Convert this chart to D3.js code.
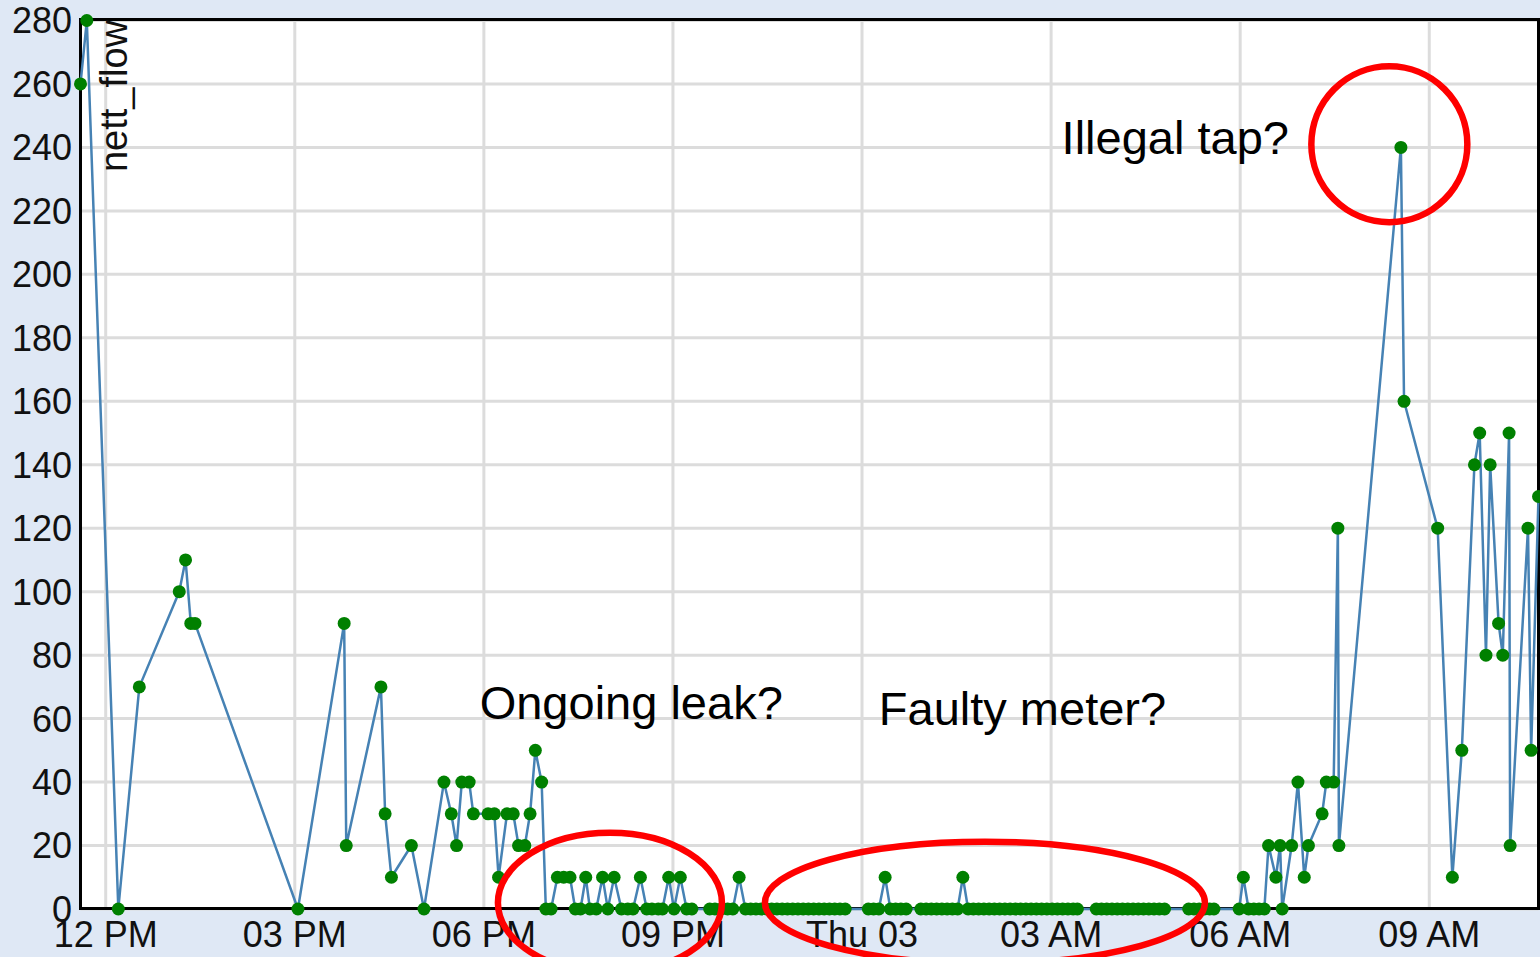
<!DOCTYPE html>
<html>
<head>
<meta charset="utf-8">
<script src="https://cdn.jsdelivr.net/npm/d3@7"></script>
<style>
  body { margin: 0; background: #dfe8f5; }
  svg text { font-family: "Liberation Sans", Arial, sans-serif; fill: #111; }
</style>
</head>
<body>
<svg id="chart" width="1540" height="957"></svg>
<script>
'use strict';
// readings start Wed 2016-03-02, times roll over to the next day after midnight
var startDay = '2016-03-02';
var times = [
  '11:36','11:42','12:12','12:32','13:10','13:16','13:21','13:25','15:03','15:47',
  '15:49','16:22','16:26','16:32','16:51','17:03','17:22','17:29','17:34','17:39',
  '17:46','17:50','18:04','18:10','18:14','18:22','18:28','18:33','18:39','18:44',
  '18:49','18:55','18:59','19:04','19:10','19:16','19:22','19:27','19:32','19:37',
  '19:41','19:47','19:53','19:58','20:04','20:11','20:17','20:22','20:29','20:35',
  '20:40','20:46','20:50','20:56','21:01','21:07','21:13','21:18','21:35','21:40',
  '21:46','21:52','21:57','22:03','22:09','22:14','22:19','22:24','22:29','22:34',
  '22:39','22:44','22:49','22:54','22:59','23:04','23:09','23:14','23:19','23:24',
  '23:29','23:34','23:39','23:44','00:06','00:11','00:16','00:22','00:27','00:32',
  '00:37','00:42','00:56','01:01','01:06','01:11','01:16','01:21','01:26','01:31',
  '01:36','01:41','01:46','01:51','01:56','02:01','02:06','02:11','02:16','02:21',
  '02:26','02:31','02:36','02:41','02:46','02:51','02:56','03:01','03:06','03:11',
  '03:16','03:21','03:25','03:43','03:48','03:53','03:58','04:03','04:08','04:13',
  '04:18','04:23','04:28','04:33','04:38','04:43','04:48','05:11','05:16','05:21',
  '05:26','05:31','05:35','05:59','06:03','06:08','06:13','06:18','06:23','06:27',
  '06:34','06:38','06:40','06:49','06:55','07:01','07:05','07:18','07:22','07:29',
  '07:33','07:34','08:33','08:36','09:08','09:22','09:31','09:43','09:48','09:54',
  '09:58','10:06','10:10','10:16','10:17','10:34','10:37','10:44'
];
var flow = [
  260,280,0,70,100,110,90,90,0,90,
  20,70,30,10,20,0,40,30,20,40,
  40,30,30,30,10,30,30,20,20,30,
  50,40,0,0,10,10,10,0,0,10,
  0,0,10,0,10,0,0,0,10,0,
  0,0,0,10,0,10,0,0,0,0,
  0,0,0,10,0,0,0,0,0,0,
  0,0,0,0,0,0,0,0,0,0,
  0,0,0,0,0,0,0,10,0,0,
  0,0,0,0,0,0,0,0,0,0,
  10,0,0,0,0,0,0,0,0,0,
  0,0,0,0,0,0,0,0,0,0,
  0,0,0,0,0,0,0,0,0,0,
  0,0,0,0,0,0,0,0,0,0,
  0,0,0,0,10,0,0,0,0,20,
  10,20,0,20,40,10,20,30,40,40,
  120,20,240,160,120,10,50,140,150,80,
  140,90,80,150,20,120,50,130
];
var yTicks = d3.range(0, 281, 20);
var yTitle = 'nett_flow';

// annotations
var notes = ['Illegal tap?', 'Ongoing leak?', 'Faulty meter?'];
var noteTimes = ['2016-03-03 03:10', '2016-03-02 17:56', '2016-03-03 00:16'];
var noteValues = [238, 60, 58];
var ringTimes = ['2016-03-03 08:22', '2016-03-02 20:00', '2016-03-03 01:57'];
var ringValues = [241, 2, 2];
var ringSize = [[78, 78], [112, 70], [220, 61]];

var parseFull = d3.timeParse('%Y-%m-%d %H:%M');

function buildData(){
  var day = parseFull(startDay + ' 00:00');
  var prev = -1;
  return times.map(function(t, i){
    var p = t.split(':');
    var mins = (+p[0]) * 60 + (+p[1]);
    if (mins < prev) day = d3.timeDay.offset(day, 1);
    prev = mins;
    return {time: d3.timeMinute.offset(day, mins), value: flow[i]};
  });
}

var data = buildData();

var box = {left: 80.5, top: 19.5, right: 1538.5, bottom: 908.5};

var svg = d3.select('#chart');

var x = d3.scaleTime()
    .domain(d3.extent(data, function(d){ return d.time; }))
    .range([box.left, box.right]);
var y = d3.scaleLinear()
    .domain([0, 280])
    .range([909, 20.5]);

svg.append('rect')
    .attr('width', 1540).attr('height', 957)
    .attr('fill', '#dfe8f5');
svg.append('rect')
    .attr('x', box.left).attr('y', box.top)
    .attr('width', box.right - box.left)
    .attr('height', box.bottom - box.top)
    .attr('fill', '#fff');

var xTicks = x.ticks(d3.timeHour.every(3));
var fmt = x.tickFormat();

// grid
svg.append('g').selectAll('line').data(yTicks).join('line')
    .attr('x1', box.left).attr('x2', box.right)
    .attr('y1', function(d){ return y(d); })
    .attr('y2', function(d){ return y(d); })
    .attr('stroke', '#dcdcdc').attr('stroke-width', 3);
svg.append('g').selectAll('line').data(xTicks).join('line')
    .attr('y1', box.top).attr('y2', box.bottom)
    .attr('x1', function(d){ return x(d); })
    .attr('x2', function(d){ return x(d); })
    .attr('stroke', '#dcdcdc').attr('stroke-width', 3);

// frame
svg.append('rect')
    .attr('x', box.left).attr('y', box.top)
    .attr('width', box.right - box.left)
    .attr('height', box.bottom - box.top)
    .attr('fill', 'none')
    .attr('stroke', '#000').attr('stroke-width', 3);

// tick labels
svg.append('g').selectAll('text').data(yTicks).join('text')
    .attr('x', 72)
    .attr('y', function(d){ return y(d); })
    .attr('dy', '0.36em')
    .attr('text-anchor', 'end')
    .style('font-size', '36px')
    .text(function(d){ return d; });
svg.append('g').selectAll('text').data(xTicks).join('text')
    .attr('x', function(d){ return x(d); })
    .attr('y', 947)
    .attr('text-anchor', 'middle')
    .style('font-size', '36px')
    .text(function(d){ return fmt(d); });

svg.append('text')
    .attr('transform', 'translate(127,20) rotate(-90)')
    .attr('text-anchor', 'end')
    .style('font-size', '38px')
    .text(yTitle);

// series
var line = d3.line()
    .x(function(d){ return x(d.time); })
    .y(function(d){ return y(d.value); });
svg.append('path')
    .datum(data)
    .attr('d', line)
    .attr('fill', 'none')
    .attr('stroke', '#4682b4')
    .attr('stroke-width', 2.5)
    .attr('stroke-linejoin', 'round');
svg.append('g').selectAll('circle').data(data).join('circle')
    .attr('cx', function(d){ return x(d.time); })
    .attr('cy', function(d){ return y(d.value); })
    .attr('r', 6.5)
    .attr('fill', '#008000');

// annotations
svg.append('g').selectAll('text').data(notes).join('text')
    .attr('x', function(d, i){ return x(parseFull(noteTimes[i])); })
    .attr('y', function(d, i){ return y(noteValues[i]); })
    .style('font-size', '47px')
    .style('fill', '#000')
    .text(function(d){ return d; });
svg.append('g').selectAll('ellipse').data(ringTimes).join('ellipse')
    .attr('cx', function(d){ return x(parseFull(d)); })
    .attr('cy', function(d, i){ return y(ringValues[i]); })
    .attr('rx', function(d, i){ return ringSize[i][0]; })
    .attr('ry', function(d, i){ return ringSize[i][1]; })
    .attr('fill', 'none')
    .attr('stroke', '#ff0000')
    .attr('stroke-width', 6.5);
</script>
</body>
</html>
